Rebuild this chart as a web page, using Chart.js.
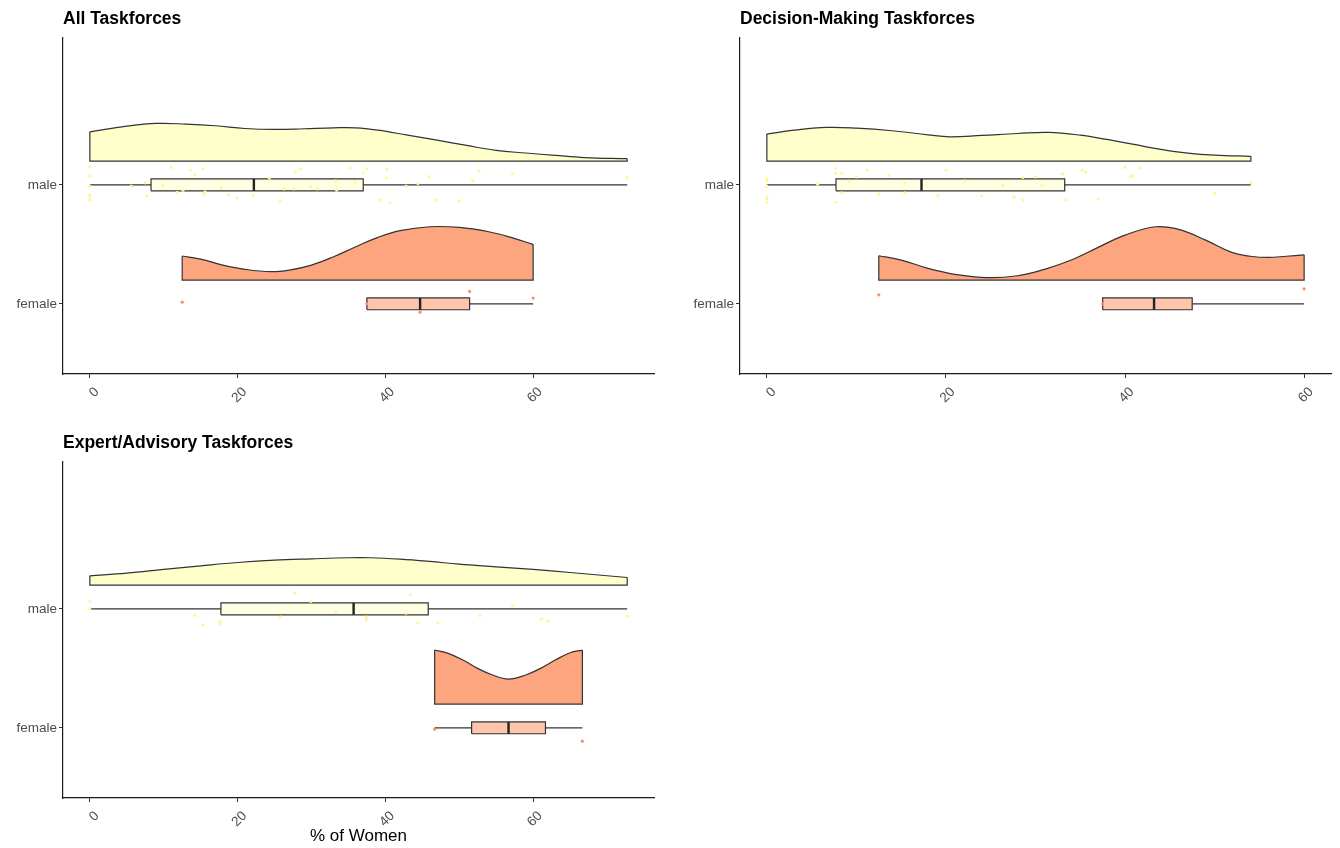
<!DOCTYPE html>
<html>
<head>
<meta charset="utf-8">
<script src="https://cdn.jsdelivr.net/npm/chart.js@4.4.1/dist/chart.umd.min.js"></script>
<style>
  body { margin: 0; background: #fff; }
  #wrap { position: relative; width: 1340px; height: 848px; }
  canvas { position: absolute; }
</style>
</head>
<body>
<div id="wrap">
  <canvas id="c1" width="670" height="420" style="left:0;top:0"></canvas>
  <canvas id="c2" width="663" height="420" style="left:677px;top:0"></canvas>
  <canvas id="c3" width="670" height="424" style="left:0;top:424px"></canvas>
</div>
<script>
const groups = ["female", "male"];   // y positions 1 and 2
const xTicks = [0, 20, 40, 60];
const titles = ["All Taskforces", "Decision-Making Taskforces", "Expert/Advisory Taskforces"];
const xLabel = "% of Women";

// half violin outlines: [% of women, height above base]
const allMaleDens = [[0,0.246],[5,0.294],[9,0.317],[13,0.311],[17,0.297],[21,0.274],[25,0.266],[29,0.272],[33,0.28],[36,0.28],[39,0.26],[43,0.218],[47,0.176],[51,0.132],[55,0.09],[59,0.068],[63,0.048],[67,0.03],[72.73,0.02]];
const allFemaleDens = [[12.5,0.202],[15,0.176],[18,0.126],[21,0.09],[24.5,0.07],[27,0.084],[30,0.126],[33,0.196],[36,0.28],[39,0.359],[42,0.415],[46,0.448],[50,0.443],[54,0.406],[57,0.359],[60,0.30]];
const dmMaleDens = [[0,0.227],[3,0.26],[6.7,0.283],[10,0.277],[14,0.255],[18,0.221],[20.4,0.204],[24,0.216],[28,0.232],[31.5,0.241],[35,0.218],[38,0.182],[41,0.14],[44,0.098],[47,0.067],[50,0.05],[54.05,0.04]];
const dmFemaleDens = [[12.5,0.204],[15,0.168],[18,0.098],[21,0.048],[24.6,0.02],[28,0.036],[31,0.09],[34,0.168],[37,0.275],[40,0.378],[43.4,0.448],[46,0.426],[49,0.336],[52,0.23],[54,0.2],[56,0.19],[58,0.2],[60,0.212]];
const eaMaleDens = [[0,0.078],[5,0.101],[10,0.132],[15,0.162],[20,0.19],[25,0.21],[30,0.221],[35,0.23],[38,0.23],[42,0.218],[46,0.199],[50,0.176],[55,0.154],[60,0.132],[65,0.106],[72.73,0.064]];
const eaFemaleDens = [[46.67,0.454],[48.5,0.426],[50.5,0.37],[52.5,0.30],[54.5,0.244],[56.67,0.21],[59,0.244],[61,0.30],[63,0.37],[65,0.431],[66.67,0.454]];

// boxplots: [lower whisker, q1, median, q3, upper whisker]
const allMaleBox = [0, 8.28, 22.2, 37.0, 72.73];
const allFemaleBox = [37.5, 37.5, 44.7, 51.4, 60];
const dmMaleBox = [0, 7.72, 17.27, 33.26, 54.05];
const dmFemaleBox = [37.5, 37.5, 43.24, 47.5, 60];
const eaMaleBox = [0, 17.74, 35.7, 45.8, 72.73];
const eaFemaleBox = [46.67, 51.67, 56.67, 61.67, 66.67];

// jittered observations: [% of women, vertical jitter]
const allMalePts = [[0,0.151],[0,0.073],[0,-0.011],[0,-0.087],[0,-0.115],[0,-0.129],[5.6,-0.011],[7.7,-0.095],[7.5,0.017],[9.9,-0.006],[11.0,0.146],[11.8,-0.062],[12.6,-0.045],[13.6,0.123],[14.2,0.087],[15.3,0.137],[15.4,-0.078],[15.6,-0.059],[17.8,-0.025],[18.8,-0.081],[19.9,-0.109],[22.1,-0.087],[24.3,0.056],[25.8,-0.137],[26.3,-0.034],[27.6,-0.034],[27.8,0.112],[28.5,0.134],[29.9,-0.017],[30.8,-0.034],[33.3,0.034],[33.4,-0.045],[35.2,0.14],[35.9,0.028],[37.0,0.101],[37.5,0.134],[39.2,-0.123],[40.1,0.059],[40.2,0.132],[40.6,-0.148],[42.8,-0.011],[44.4,0.011],[45.9,0.07],[46.9,-0.123],[50.0,-0.134],[51.8,0.034],[52.7,0.118],[57.2,0.095],[72.73,0.062]];
const allFemalePts = [[12.5,0.014],[37.5,0],[44.7,-0.07],[51.4,0.104],[60,0.048]];
const dmMalePts = [[0,0.053],[0,0.034],[0,-0.011],[0,-0.101],[0,-0.115],[0,-0.146],[5.67,0.006],[7.68,0.137],[7.68,0.095],[7.68,-0.146],[8.36,0.095],[8.36,-0.067],[9.21,0.031],[10.0,0.067],[11.2,0.123],[12.5,-0.078],[13.6,0.078],[15.4,0.017],[15.4,-0.067],[19.1,-0.09],[20.0,0.123],[22.1,0.034],[24.0,-0.095],[26.4,-0.003],[27.6,-0.101],[28.6,0.062],[28.6,-0.129],[30.0,0.067],[30.7,-0.006],[33.0,0.09],[33.4,-0.129],[35.2,0.123],[35.6,0.106],[37.0,-0.115],[40.0,0.146],[40.6,0.067],[40.9,0.078],[41.6,0.14],[50.0,-0.073],[54.05,0.017]];
const dmFemalePts = [[12.5,0.076],[37.5,0],[60,0.126]];
const eaMalePts = [[0,0.062],[0,0],[14.2,-0.056],[15.3,-0.134],[17.6,-0.106],[17.6,-0.126],[25.8,-0.07],[27.7,0.134],[29.9,0.062],[33.3,-0.022],[37.4,-0.07],[37.4,-0.09],[42.8,-0.036],[43.4,0.12],[44.4,-0.118],[47.1,-0.118],[52.8,-0.056],[57.2,0.028],[61.1,-0.084],[62.0,-0.104],[72.73,-0.062]];
const eaFemalePts = [[46.67,-0.011],[66.67,-0.112]];

const FONT = "'Liberation Sans', Arial, Helvetica, sans-serif";
Chart.defaults.font.family = FONT;

const LINE = '#333333';
const maleStyle = { fill: '#FFFFCC', box: '#FFFFE3', pt: '#FFF59A' };
const femaleStyle = { fill: '#FCA57F', box: '#FEC5AC', pt: '#FB8F67' };
const BASE = 0.2, HALF = 0.05;

function groupSets(c, dens, box, pts, st) {
  const base = c + BASE;
  const n = dens.length - 1;
  const ln = { borderColor: LINE, borderWidth: 1.2, pointRadius: 0, fill: false, tension: 0 };
  return [
    Object.assign({}, ln, { order: 5, data: dens.map(d => ({ x: d[0], y: base + d[1] })),
      tension: 0.4, fill: { value: base }, backgroundColor: st.fill }),
    Object.assign({}, ln, { order: 4, data: [
      { x: dens[0][0], y: base + dens[0][1] }, { x: dens[0][0], y: base },
      { x: dens[n][0], y: base }, { x: dens[n][0], y: base + dens[n][1] }] }),
    Object.assign({}, ln, { order: 3, data: [{ x: box[0], y: c }, { x: box[4], y: c }] }),
    Object.assign({}, ln, { order: 2, fill: 'shape', backgroundColor: st.box, data: [
      { x: box[1], y: c - HALF }, { x: box[3], y: c - HALF }, { x: box[3], y: c + HALF },
      { x: box[1], y: c + HALF }, { x: box[1], y: c - HALF }] }),
    Object.assign({}, ln, { order: 1, borderWidth: 2.4, borderColor: '#222',
      data: [{ x: box[2], y: c - HALF }, { x: box[2], y: c + HALF }] }),
    { order: 0, showLine: false, pointRadius: 1.6, pointBorderWidth: 0,
      pointBackgroundColor: st.pt, data: pts.map(p => ({ x: p[0], y: c + p[1] })) }
  ];
}

function rainPanel(id, title, xMin, xMax, padRight, axisH, sets, withLabel) {
  const axisBits = {
    grid: { drawOnChartArea: false, drawTicks: true, tickLength: 4, color: '#333', lineWidth: 1 },
    border: { display: true, color: '#1a1a1a', width: 1.2 }
  };
  return new Chart(id, {
    type: 'line',
    data: { datasets: sets },
    options: {
      responsive: false,
      animation: false,
      layout: { padding: { left: 0, right: padRight, top: 0, bottom: 0 } },
      plugins: {
        legend: { display: false },
        tooltip: { enabled: false },
        title: {
          display: true, text: title, align: 'start', fullSize: false, color: '#000',
          font: { size: 17.5, weight: 'bold', family: FONT },
          padding: { top: 9, bottom: 8 }
        }
      },
      scales: {
        x: Object.assign({
          type: 'linear', min: xMin, max: xMax,
          afterBuildTicks: s => { s.ticks = xTicks.map(v => ({ value: v })); },
          afterFit: s => { s.height = axisH; },
          ticks: { minRotation: 45, maxRotation: 45, color: '#4D4D4D', padding: 6, labelOffset: 7,
            font: { size: 13.5, family: FONT } },
          title: { display: withLabel, text: xLabel, color: '#000',
            font: { size: 17, family: FONT }, padding: { top: 0, bottom: 1 } }
        }, axisBits),
        y: Object.assign({
          type: 'linear', min: 0.41, max: 3.235,
          afterBuildTicks: s => { s.ticks = [{ value: 1 }, { value: 2 }]; },
          afterFit: s => { s.width = 63; },
          ticks: { color: '#4D4D4D', padding: 2, font: { size: 13.5, family: FONT },
            callback: v => groups[v - 1] }
        }, axisBits)
      }
    }
  });
}

rainPanel('c1', titles[0], -3.636, 76.36, 16, 46,
  groupSets(2, allMaleDens, allMaleBox, allMalePts, maleStyle)
    .concat(groupSets(1, allFemaleDens, allFemaleBox, allFemalePts, femaleStyle)), false);
rainPanel('c2', titles[1], -3, 63, 9, 46,
  groupSets(2, dmMaleDens, dmMaleBox, dmMalePts, maleStyle)
    .concat(groupSets(1, dmFemaleDens, dmFemaleBox, dmFemalePts, femaleStyle)), false);
rainPanel('c3', titles[2], -3.636, 76.36, 16, 50,
  groupSets(2, eaMaleDens, eaMaleBox, eaMalePts, maleStyle)
    .concat(groupSets(1, eaFemaleDens, eaFemaleBox, eaFemalePts, femaleStyle)), true);
</script>
</body>
</html>
